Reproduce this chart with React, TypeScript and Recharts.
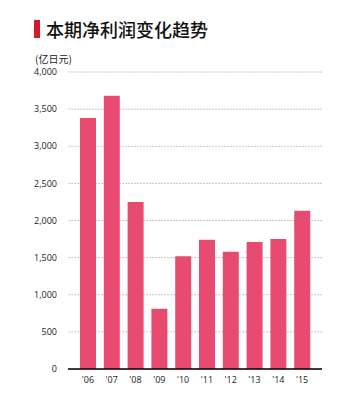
import React from "react";
import { BarChart, Bar, XAxis, YAxis, CartesianGrid } from "recharts";

const years = ["'06", "'07", "'08", "'09", "'10", "'11", "'12", "'13", "'14", "'15"];
const netProfit = [3380, 3680, 2250, 810, 1520, 1740, 1580, 1710, 1750, 2130];
const yTicks = [0, 500, 1000, 1500, 2000, 2500, 3000, 3500, 4000];
const title = "本期净利润变化趋势";
const unitLabel = "(亿日元)";

const data = years.map((y, i) => ({ year: y, value: netProfit[i] }));

const fmt = (v: number) => v.toLocaleString("en-US");

export default function App() {
  return (
    <div style={{ position: "absolute", left: 0, top: 0, width: 352, height: 400, background: "#fff" }}>
      <div style={{ position: "absolute", left: 34, top: 20, width: 6, height: 18, background: "#d7192d" }} />
      <div
        style={{
          position: "absolute",
          left: 46,
          top: 16,
          fontFamily: "'Noto Sans CJK SC', sans-serif",
          fontSize: 18,
          fontWeight: 500,
          color: "#111",
          lineHeight: "26px",
          whiteSpace: "nowrap",
        }}
      >
        {title}
      </div>
      <div
        style={{
          position: "absolute",
          left: 35,
          top: 53,
          fontFamily: "'Noto Sans CJK SC', sans-serif",
          fontSize: 10,
          color: "#222",
          lineHeight: "12px",
          whiteSpace: "nowrap",
        }}
      >
        {unitLabel}
      </div>
      <div style={{ position: "absolute", left: 0, top: 0 }}>
        <BarChart
          width={352}
          height={400}
          data={data}
          margin={{ top: 72, right: 30, bottom: 0, left: 8 }}
          barSize={16}
        >
          <CartesianGrid vertical={false} stroke="#c4c4c4" strokeDasharray="2 1" />
          <XAxis
            dataKey="year"
            padding={{ left: 8, right: 8 }}
            axisLine={{ stroke: "#000", strokeWidth: 1.5 }}
            tickLine={false}
            tickSize={0}
            tickMargin={8}
            interval={0}
            tick={{ fontSize: 9, fill: "#222", fontFamily: "'Open Sans', sans-serif" }}
            height={31}
          />
          <YAxis
            width={60}
            domain={[0, 4000]}
            ticks={yTicks}
            tickFormatter={fmt}
            axisLine={false}
            tickLine={false}
            tickSize={0}
            tickMargin={11}
            tick={{ fontSize: 9, fill: "#222", fontFamily: "'Open Sans', sans-serif" }}
          />
          <Bar dataKey="value" fill="#e84b70" isAnimationActive={false} />
        </BarChart>
      </div>
    </div>
  );
}
